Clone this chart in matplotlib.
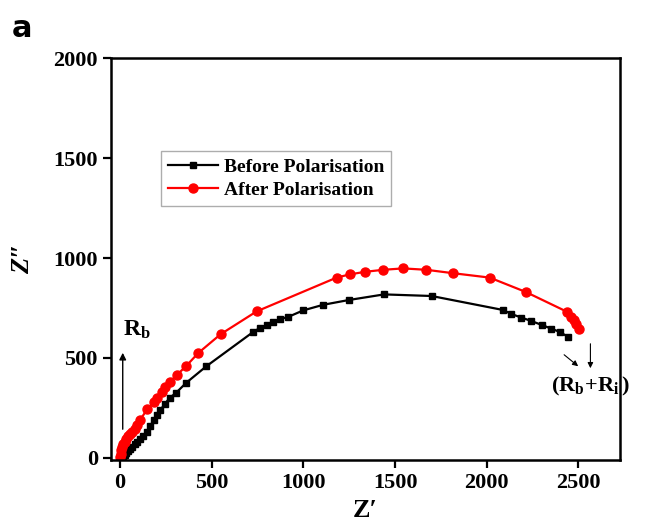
import matplotlib
matplotlib.use("Agg")
import matplotlib.pyplot as plt

plt.rcParams['font.family'] = ['Liberation Serif', 'DejaVu Serif']
plt.rcParams['font.weight'] = 'bold'
plt.rcParams['mathtext.fontset'] = 'custom'
plt.rcParams['mathtext.rm'] = 'Liberation Serif:bold'
plt.rcParams['mathtext.it'] = 'Liberation Serif:bold'
plt.rcParams['mathtext.bf'] = 'Liberation Serif:bold'

before_x = [15, 25, 35, 45, 55, 65, 80, 95, 110, 125, 145, 165, 185, 200, 220, 245, 270, 305, 360, 470,
            726, 763, 800, 835, 875, 916, 999, 1108, 1248, 1440, 1699,
            2089, 2134, 2189, 2243, 2300, 2352, 2398, 2445]
before_y = [5, 15, 25, 35, 45, 55, 68, 80, 95, 110, 130, 160, 190, 215, 240, 270, 300, 325, 375, 458,
            630, 650, 665, 680, 695, 705, 738, 766, 790, 818, 810,
            740, 720, 702, 685, 665, 647, 630, 605]

after_x = [0, 3, 7, 12, 18, 25, 35, 45, 55, 65, 80, 95, 109, 150, 185, 200, 227, 245, 272, 309, 360, 427,
           549, 745, 1181, 1253, 1337, 1435, 1544, 1671, 1816, 2016, 2213, 2440, 2461, 2474, 2489, 2505]
after_y = [5, 20, 40, 55, 70, 80, 95, 110, 120, 130, 145, 165, 190, 245, 280, 298, 331, 356, 381, 414, 459, 525,
           619, 733, 902, 918, 931, 941, 948, 941, 924, 902, 830, 730, 705, 689, 672, 645]

series_labels = ['Before Polarisation', 'After Polarisation']
x_ticks = [0, 500, 1000, 1500, 2000, 2500]
y_ticks = [0, 500, 1000, 1500, 2000]

fig = plt.figure(figsize=(6.51, 5.26), dpi=100)
ax = fig.add_axes([0.1705, 0.1255, 0.952 - 0.1705, 0.8897 - 0.1255])

ax.plot(before_x, before_y, color='black', lw=1.6, marker='s', ms=5, label=series_labels[0])
ax.plot(after_x, after_y, color='red', lw=1.6, marker='o', ms=6.5, label=series_labels[1])

ax.set_xlim(-49, 2725)
ax.set_ylim(-10, 2000)
ax.set_xticks(x_ticks)
ax.set_yticks(y_ticks)
ax.tick_params(axis='both', which='major', direction='out', length=6, width=1.6,
               labelsize=16, top=False, right=False)
for lbl in ax.get_xticklabels() + ax.get_yticklabels():
    lbl.set_fontweight('bold')
for s in ax.spines.values():
    s.set_linewidth(1.8)

ax.set_xlabel('Z\u2032', fontsize=19, fontweight='bold', labelpad=4)
ax.set_ylabel('Z\u2033', fontsize=19, fontweight='bold', fontstyle='italic', labelpad=14)

leg = ax.legend(loc='upper left', bbox_to_anchor=(0.098, 0.768), borderaxespad=0, fontsize=14,
                frameon=True, fancybox=False, edgecolor='#999999', borderpad=0.35,
                handlelength=2.6, handletextpad=0.3, labelspacing=0.3)
leg.get_frame().set_linewidth(1.0)
for t in leg.get_texts():
    t.set_fontweight('bold')

# annotations
ax.annotate('', xy=(15, 540), xytext=(15, 130),
            arrowprops=dict(arrowstyle='-|>', color='black', lw=1.0, mutation_scale=10))
ax.text(15, 640, r'$\mathrm{R_b}$', fontsize=17, ha='left', va='center')
ax.annotate('', xy=(2510, 450), xytext=(2410, 525),
            arrowprops=dict(arrowstyle='-|>', color='black', lw=0.8, mutation_scale=8))
ax.annotate('', xy=(2565, 435), xytext=(2565, 585),
            arrowprops=dict(arrowstyle='-|>', color='black', lw=0.8, mutation_scale=8))
ax.text(2568, 360, r'$\mathrm{(R_b\!+\!R_i\,)}$', fontsize=16, ha='center', va='center')

fig.text(0.018, 0.945, 'a', fontsize=22, fontweight='bold', family='DejaVu Sans', ha='left', va='center')

fig.savefig('out.png', dpi=100)
